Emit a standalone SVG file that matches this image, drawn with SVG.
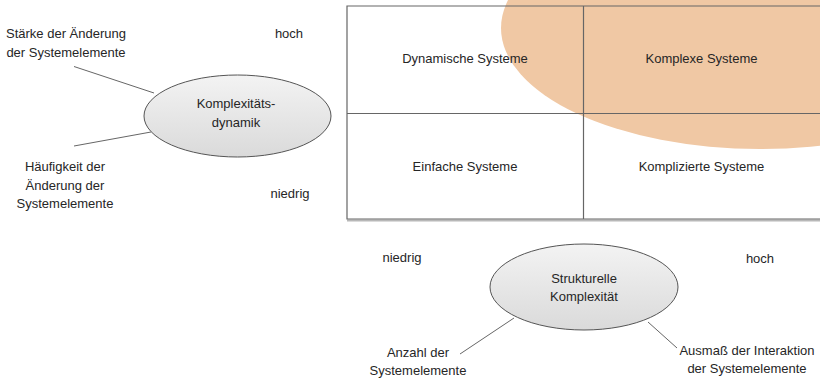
<svg xmlns="http://www.w3.org/2000/svg" width="820" height="381" viewBox="0 0 820 381">
  <defs>
    <linearGradient id="nodeFill" x1="0" y1="0" x2="0" y2="1">
      <stop offset="0" stop-color="#f3f3f3"/>
      <stop offset="1" stop-color="#dadada"/>
    </linearGradient>
  </defs>
  <style>
    text { font-family: "Liberation Sans", Arial, sans-serif; font-size: 13px; fill: #262626; }
    .mid { text-anchor: middle; }
    .node { fill: url(#nodeFill); stroke: #555; stroke-width: 1; }
    .grid { stroke: #666; stroke-width: 1.2; fill: none; }
    .conn { stroke: #666; stroke-width: 1; fill: none; }
  </style>
  <rect width="820" height="381" fill="#fff"/>

  <!-- matrix -->
  <g id="matrix">
    <ellipse cx="760" cy="28" rx="259" ry="121" fill="#f0c8a4"/>
    <line x1="347" y1="220.5" x2="820" y2="220.5" stroke="#b8b8b8" stroke-width="2"/>
    <path class="grid" d="M820 6 H347 V219 H820"/>
    <line class="grid" x1="347" y1="113.5" x2="820" y2="113.5"/>
    <line class="grid" x1="583.5" y1="6" x2="583.5" y2="219"/>
    <text class="mid" x="465" y="63">Dynamische Systeme</text>
    <text class="mid" x="701.5" y="63">Komplexe Systeme</text>
    <text class="mid" x="465" y="171">Einfache Systeme</text>
    <text class="mid" x="701.5" y="171">Komplizierte Systeme</text>
  </g>

  <!-- axis scale labels -->
  <g id="axis-labels">
    <text class="mid" x="289" y="38">hoch</text>
    <text class="mid" x="290" y="198">niedrig</text>
    <text class="mid" x="402" y="262">niedrig</text>
    <text class="mid" x="760" y="263">hoch</text>
  </g>

  <!-- connectors -->
  <g id="connectors">
    <line class="conn" x1="74" y1="66.5" x2="154" y2="93"/>
    <line class="conn" x1="74" y1="146" x2="151" y2="132"/>
    <line class="conn" x1="460" y1="354" x2="514" y2="318"/>
    <line class="conn" x1="648" y1="322" x2="677" y2="348"/>
  </g>

  <!-- vertical axis node -->
  <g id="node-dynamik">
    <ellipse class="node" cx="237.5" cy="116" rx="93.5" ry="41"/>
    <text class="mid" x="236" y="108">Komplexitäts-</text>
    <text class="mid" x="236" y="127">dynamik</text>
  </g>

  <!-- horizontal axis node -->
  <g id="node-struktur">
    <ellipse class="node" cx="584" cy="287" rx="94" ry="43"/>
    <text class="mid" x="584" y="283">Strukturelle</text>
    <text class="mid" x="584" y="301">Komplexität</text>
  </g>

  <!-- factor labels -->
  <g id="label-staerke">
    <text class="mid" x="66" y="38">Stärke der Änderung</text>
    <text class="mid" x="66" y="57">der Systemelemente</text>
  </g>
  <g id="label-haeufigkeit">
    <text class="mid" x="65" y="171">Häufigkeit der</text>
    <text class="mid" x="65" y="189.5">Änderung der</text>
    <text class="mid" x="65" y="208">Systemelemente</text>
  </g>
  <g id="label-anzahl">
    <text class="mid" x="418" y="357">Anzahl der</text>
    <text class="mid" x="418" y="375">Systemelemente</text>
  </g>
  <g id="label-ausmass">
    <text class="mid" x="747" y="355">Ausmaß der Interaktion</text>
    <text class="mid" x="747" y="373">der Systemelemente</text>
  </g>
</svg>
